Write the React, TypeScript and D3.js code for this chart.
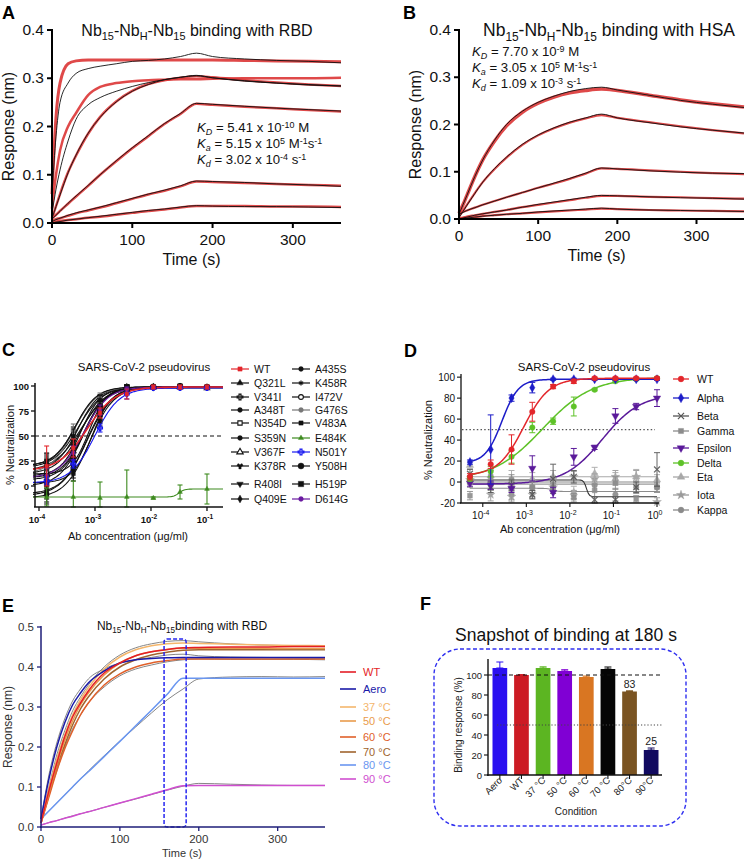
import React from 'react';
import * as d3 from 'd3';

const FONT = '"Liberation Sans", Arial, Helvetica, sans-serif';
const RED = '#dc3535';

/* ================= Panels A & B : BLI kinetics ================= */
const TIME_AB = [0, 5, 10, 20, 30, 45, 60, 80, 100, 120, 140, 160, 180, 200, 240, 280, 320, 360];

const A_FIT_1 = [0.06, 0.22, 0.29, 0.33, 0.336, 0.338, 0.338, 0.338, 0.338, 0.338, 0.338, 0.338, 0.338, 0.338, 0.337, 0.336, 0.335, 0.334];
const A_FIT_2 = [0.03, 0.1, 0.15, 0.2, 0.228, 0.265, 0.282, 0.29, 0.294, 0.296, 0.297, 0.298, 0.298, 0.299, 0.3, 0.3, 0.3, 0.301];
const A_FIT_3 = [0.01, 0.035, 0.06, 0.105, 0.14, 0.185, 0.22, 0.252, 0.274, 0.288, 0.296, 0.301, 0.304, 0.302, 0.296, 0.291, 0.287, 0.284];
const A_FIT_4 = [0.01, 0.017, 0.025, 0.04, 0.055, 0.077, 0.1, 0.128, 0.155, 0.18, 0.205, 0.226, 0.247, 0.245, 0.241, 0.238, 0.234, 0.231];
const A_FIT_5 = [0.005, 0.008, 0.01, 0.015, 0.02, 0.026, 0.032, 0.041, 0.05, 0.059, 0.067, 0.076, 0.086, 0.085, 0.083, 0.081, 0.079, 0.077];
const A_FIT_6 = [0.002, 0.003, 0.004, 0.006, 0.008, 0.011, 0.013, 0.017, 0.021, 0.025, 0.028, 0.032, 0.035, 0.035, 0.035, 0.034, 0.034, 0.033];
const A_RAW_1 = [0.06, 0.18, 0.25, 0.29, 0.31, 0.32, 0.325, 0.33, 0.335, 0.337, 0.34, 0.345, 0.352, 0.345, 0.34, 0.337, 0.335, 0.332];
const A_RAW_2 = [0.02, 0.07, 0.11, 0.17, 0.215, 0.245, 0.26, 0.273, 0.283, 0.291, 0.297, 0.302, 0.306, 0.301, 0.294, 0.29, 0.287, 0.284];
const A_RAW_3 = [0.01, 0.034, 0.058, 0.104, 0.141, 0.186, 0.219, 0.251, 0.273, 0.287, 0.297, 0.302, 0.305, 0.301, 0.295, 0.29, 0.286, 0.284];
const A_RAW_4 = [0.008, 0.016, 0.024, 0.041, 0.056, 0.078, 0.1, 0.129, 0.156, 0.181, 0.206, 0.227, 0.248, 0.246, 0.242, 0.238, 0.235, 0.232];
const A_RAW_5 = [0.003, 0.007, 0.01, 0.016, 0.021, 0.027, 0.033, 0.042, 0.051, 0.06, 0.068, 0.077, 0.087, 0.086, 0.084, 0.081, 0.079, 0.076];
const A_RAW_6 = [0, 0.002, 0.003, 0.006, 0.008, 0.011, 0.014, 0.018, 0.022, 0.026, 0.029, 0.033, 0.036, 0.035, 0.034, 0.034, 0.033, 0.032];

const B_FIT_1 = [0.012, 0.03, 0.05, 0.09, 0.125, 0.165, 0.197, 0.226, 0.245, 0.258, 0.267, 0.272, 0.275, 0.272, 0.262, 0.252, 0.244, 0.237];
const B_FIT_2 = [0.005, 0.017, 0.03, 0.055, 0.078, 0.106, 0.13, 0.157, 0.177, 0.192, 0.204, 0.213, 0.22, 0.214, 0.205, 0.196, 0.188, 0.181];
const B_FIT_3 = [0.012, 0.015, 0.018, 0.024, 0.03, 0.038, 0.046, 0.056, 0.066, 0.075, 0.085, 0.096, 0.107, 0.106, 0.103, 0.1, 0.097, 0.095];
const B_FIT_4 = [0.002, 0.003, 0.005, 0.008, 0.011, 0.015, 0.019, 0.025, 0.03, 0.035, 0.04, 0.045, 0.049, 0.049, 0.047, 0.046, 0.044, 0.043];
const B_FIT_5 = [0.001, 0.002, 0.003, 0.004, 0.006, 0.008, 0.01, 0.012, 0.014, 0.016, 0.018, 0.02, 0.022, 0.021, 0.019, 0.018, 0.017, 0.016];
const B_RAW_1 = [0.01, 0.03, 0.05, 0.09, 0.125, 0.167, 0.2, 0.228, 0.247, 0.26, 0.27, 0.276, 0.279, 0.273, 0.262, 0.251, 0.243, 0.236];
const B_RAW_2 = [0.003, 0.016, 0.029, 0.054, 0.078, 0.107, 0.131, 0.158, 0.178, 0.193, 0.205, 0.214, 0.222, 0.214, 0.204, 0.195, 0.188, 0.182];
const B_RAW_3 = [0.01, 0.014, 0.018, 0.024, 0.03, 0.038, 0.046, 0.056, 0.066, 0.076, 0.086, 0.097, 0.108, 0.106, 0.102, 0.099, 0.097, 0.096];
const B_RAW_4 = [0, 0.002, 0.004, 0.008, 0.011, 0.015, 0.019, 0.025, 0.031, 0.036, 0.041, 0.046, 0.05, 0.049, 0.047, 0.045, 0.044, 0.042];
const B_RAW_5 = [0, 0.001, 0.002, 0.004, 0.006, 0.008, 0.01, 0.012, 0.015, 0.017, 0.019, 0.021, 0.023, 0.021, 0.019, 0.018, 0.017, 0.016];

const AB_YTICKS = [0, 0.1, 0.2, 0.3, 0.4];
const AB_XTICKS = [0, 100, 200, 300];
const A_KIN_MANT = ['5.41', '5.15', '3.02'];
const A_KIN_EXP = ['-10', '5', '-4'];
const B_KIN_MANT = ['7.70', '3.05', '1.09'];
const B_KIN_EXP = ['-9', '5', '-3'];
const KIN_SUB = ['D', 'a', 'd'];
const KIN_UNIT = ['M', 'Ms', 's'];

/* ================= Panel C ================= */
const C_CONC = [1.37e-4, 4.1e-4, 1.23e-3, 3.7e-3, 1.1e-2, 3.3e-2, 1e-1];
const C_NAMES = ['WT', 'Q321L', 'V341I', 'A348T', 'N354D', 'S359N', 'V367F', 'K378R', 'R408I', 'Q409E',
  'A435S', 'K458R', 'I472V', 'G476S', 'V483A', 'E484K', 'N501Y', 'Y508H', 'H519P', 'D614G'];
const C_POINTS = [
  [20, 38, 73, 92, 99, 99, 99],
  [15, 30, 80, 98, 99, 99, 99],
  [10, 25, 75, 97, 99, 100, 99],
  [22, 45, 85, 99, 99, 99, 99],
  [25, 52, 86, 99, 99, 100, 99],
  [-5, 20, 70, 97, 99, 99, 99],
  [12, 35, 82, 99, 99, 99, 98],
  [18, 40, 78, 98, 99, 99, 99],
  [5, 15, 65, 96, 98, 99, 99],
  [-10, 12, 68, 96, 99, 99, 99],
  [20, 48, 84, 98, 99, 99, 98],
  [8, 30, 78, 98, 99, 99, 99],
  [14, 22, 72, 97, 99, 99, 99],
  [16, 55, 88, 99, 99, 99, 99],
  [24, 50, 86, 99, 100, 99, 99],
  [-11, -11, -12, -11, -12, -6, -3],
  [5, 22, 58, 92, 98, 98, 98],
  [-8, 18, 74, 98, 99, 99, 99],
  [2, 28, 80, 99, 99, 100, 99],
  [10, 33, 76, 97, 99, 99, 99],
];
// 4PL fit: bottom, top, logIC50, hill
const C_FITS = [
  [15, 99, -3.14, 1.7],
  [12, 99, -3.25, 2.0],
  [8, 99, -3.2, 2.2],
  [18, 99, -3.3, 2.0],
  [20, 99, -3.35, 2.2],
  [-8, 99, -3.15, 2.0],
  [10, 99, -3.25, 2.4],
  [15, 99, -3.25, 1.8],
  [3, 98, -3.05, 2.5],
  [-12, 99, -3.1, 2.0],
  [16, 99, -3.3, 2.3],
  [6, 99, -3.2, 2.2],
  [12, 99, -3.1, 2.8],
  [12, 99, -3.38, 2.1],
  [20, 99, -3.35, 2.3],
  [-11, -3, -1.5, 9],
  [3, 98, -3.0, 2.0],
  [-10, 99, -3.15, 1.9],
  [0, 99, -3.22, 2.1],
  [8, 99, -3.2, 2.0],
];
const C_ERR_WT = [20, 9, 5, 5, 2, 2, 2];
const C_ERR_E484K = [9, 16, 16, 27, 1, 7, 15];
const C_ERR_N501Y = [4, 4, 4, 5, 1, 1, 1];
const C_ERR_OTHER = [8, 7, 5, 2, 1, 1, 1];
const C_COLORS = ['#e3262b', '#111', '#111', '#111', '#111', '#111', '#111', '#111', '#111', '#111',
  '#111', '#111', '#111', '#777', '#111', '#3d8a1e', '#1818f0', '#111', '#111', '#6a1aa0'];
const C_MARKERS = ['square', 'tri', 'plus', 'circle', 'squareOpen', 'circle', 'triOpen', 'wye', 'triDown', 'diamond',
  'circle', 'asterisk', 'circleOpen', 'circle', 'square', 'tri', 'plus', 'circleBig', 'squareBig', 'circle'];
const C_YTICKS = [0, 25, 50, 75, 100];
const C_XTICK_EXP = [-4, -3, -2, -1];
const C_LEG_ROWS = [369, 383, 397, 410, 423, 438, 452, 466, 484, 499];

/* ================= Panel D ================= */
const D_CONC = [5.08e-5, 1.52e-4, 4.57e-4, 1.37e-3, 4.12e-3, 1.23e-2, 3.7e-2, 0.111, 0.333, 1];
const D_NAMES = ['WT', 'Alpha', 'Beta', 'Gamma', 'Epsilon', 'Delta', 'Eta', 'Iota', 'Kappa'];
const D_POINTS = [
  [5, 17, 31, 67, 91, 96, 99, 99, 99, 99],
  [19, 31, 80, 90, 98, 98, 98, 98, 98, 98],
  [8, -5, -3, -12, 3, 5, -17, -17, -5, 12],
  [-13, 5, 2, -5, -5, -15, -8, -1, -16, -5],
  [-1, -3, -6, 13, -10, 24, 33, 63, 72, 80],
  [3, 10, 24, 52, 58, 72, 88, 96, 98, 99],
  [16, 6, 3, 3, 5, -10, 8, 3, 5, 2],
  [2, -12, -14, -12, -5, 5, 3, 5, 5, -19],
  [-1, -3, -12, -5, -5, -12, -3, -12, -5, -5],
];
const D_ERRS = [
  [3, 4, 14, 9, 2, 2, 1, 1, 1, 1],
  [2, 33, 3, 5, 1, 1, 1, 1, 1, 1],
  [4, 5, 5, 4, 14, 6, 3, 3, 5, 16],
  [4, 6, 5, 5, 4, 4, 6, 6, 3, 4],
  [3, 4, 4, 12, 5, 8, 2, 7, 3, 8],
  [2, 5, 6, 5, 3, 9, 1, 1, 1, 1],
  [3, 6, 8, 6, 6, 6, 6, 6, 7, 5],
  [4, 6, 5, 4, 4, 5, 5, 6, 6, 4],
  [4, 5, 5, 5, 4, 4, 6, 6, 6, 5],
];
const D_FITS = [
  [6, 99, -3.06, 1.48],
  [18, 98, -3.56, 2.3],
  [2, -14, -1.62, 14],
  [-6, -9, -2.4, 8],
  [-2, 84, -1.25, 1.0],
  [2, 100, -2.62, 0.77],
  [5, 5, -2, 1],
  [-2, -2, -2, 1],
  [0, 0, -2, 1],
];
const D_COLORS = ['#e3262b', '#1c1cc8', '#555555', '#8c8c8c', '#5a1a9a', '#5ec228', '#a8a8a8', '#9a9a9a', '#8a8a8a'];
const D_MARKERS = ['circle', 'diamond', 'times', 'square', 'triDown', 'circle', 'tri', 'star', 'circle'];
const D_YTICKS = [-20, 0, 20, 40, 60, 80, 100];
const D_XTICK_EXP = [-4, -3, -2, -1, 0];
const D_LEG_ROWS = [379, 398, 416, 431, 448, 463, 477, 495, 510];

/* ================= Panel E ================= */
const TIME_E = [0, 10, 20, 30, 40, 50, 60, 80, 100, 120, 140, 160, 180, 200, 240, 280, 320, 360];
const E_NAMES = ['WT', 'Aero', '37 °C', '50 °C', '60 °C', '70 °C', '80 °C', '90 °C'];
const E_COLORS = ['#e41e26', '#1a1aa8', '#f4b66c', '#e99b4c', '#e0602a', '#a0642e', '#6a96f0', '#d04ed0'];
const E_FITS = [
  [0.01, 0.09, 0.16, 0.225, 0.275, 0.31, 0.34, 0.385, 0.41, 0.428, 0.438, 0.444, 0.448, 0.449, 0.45, 0.45, 0.451, 0.451],
  [0.02, 0.12, 0.2, 0.26, 0.305, 0.335, 0.36, 0.39, 0.41, 0.418, 0.421, 0.423, 0.424, 0.424, 0.424, 0.424, 0.424, 0.424],
  [0.01, 0.095, 0.17, 0.23, 0.28, 0.318, 0.348, 0.395, 0.425, 0.443, 0.453, 0.458, 0.46, 0.459, 0.457, 0.455, 0.454, 0.453],
  [0.01, 0.085, 0.155, 0.215, 0.265, 0.305, 0.335, 0.38, 0.41, 0.428, 0.438, 0.444, 0.447, 0.447, 0.447, 0.447, 0.446, 0.446],
  [0.01, 0.075, 0.14, 0.195, 0.24, 0.28, 0.31, 0.355, 0.383, 0.4, 0.41, 0.416, 0.42, 0.42, 0.42, 0.42, 0.42, 0.42],
  [0.01, 0.08, 0.15, 0.205, 0.255, 0.295, 0.325, 0.37, 0.4, 0.418, 0.43, 0.437, 0.442, 0.443, 0.443, 0.443, 0.443, 0.443],
  [0.02, 0.04, 0.06, 0.08, 0.1, 0.12, 0.138, 0.176, 0.214, 0.253, 0.292, 0.332, 0.372, 0.372, 0.372, 0.372, 0.372, 0.372],
  [0.005, 0.011, 0.016, 0.022, 0.027, 0.033, 0.038, 0.049, 0.06, 0.071, 0.082, 0.093, 0.103, 0.104, 0.104, 0.104, 0.104, 0.104],
];
const E_RAW = [
  [0.01, 0.1, 0.18, 0.24, 0.29, 0.325, 0.355, 0.4, 0.43, 0.448, 0.458, 0.464, 0.466, 0.463, 0.458, 0.455, 0.453, 0.451],
  [0.02, 0.13, 0.21, 0.27, 0.315, 0.345, 0.37, 0.395, 0.41, 0.418, 0.424, 0.43, 0.432, 0.428, 0.425, 0.424, 0.423, 0.422],
  [0.01, 0.08, 0.14, 0.2, 0.245, 0.28, 0.31, 0.35, 0.378, 0.395, 0.405, 0.413, 0.418, 0.42, 0.419, 0.419, 0.419, 0.418],
  [0.02, 0.04, 0.06, 0.08, 0.1, 0.12, 0.14, 0.178, 0.215, 0.25, 0.285, 0.318, 0.345, 0.37, 0.375, 0.376, 0.375, 0.376],
  [0.005, 0.011, 0.016, 0.022, 0.028, 0.033, 0.038, 0.049, 0.06, 0.07, 0.081, 0.092, 0.102, 0.109, 0.107, 0.105, 0.104, 0.104],
];
const E_YTICKS = [0, 0.1, 0.2, 0.3, 0.4, 0.5];
const E_XTICKS = [0, 100, 200, 300];
const E_WINDOW = [156, 184, 0, 0.47];
const E_LEG_ROWS = [672, 689, 707, 721, 737, 752, 765, 779];

/* ================= Panel F ================= */
const F_COND = ['Aero', 'WT', '37 °C', '50 °C', '60 °C', '70 °C', '80°C', '90°C'];
const F_VAL = [107, 100, 107, 104, 98, 106, 83.5, 25];
const F_ERR = [6, 0.4, 1.2, 1.3, 1, 2, 0.7, 2];
const F_COLORS = ['#2a10f0', '#cc1b24', '#5cb522', '#8000d4', '#d97622', '#050505', '#7a5422', '#120a60'];
const F_LABELS = ['', '', '', '', '', '', '83', '25'];
const F_YTICKS = [0, 20, 40, 60, 80, 100];

/* ================= helpers ================= */
function symPath(kind: string, size: number): string {
  const m: any = {
    square: d3.symbolSquare, squareOpen: d3.symbolSquare, squareBig: d3.symbolSquare,
    tri: d3.symbolTriangle, triOpen: d3.symbolTriangle, triDown: d3.symbolTriangle,
    plus: d3.symbolCross, circle: d3.symbolCircle, circleOpen: d3.symbolCircle, circleBig: d3.symbolCircle,
    wye: d3.symbolWye, diamond: d3.symbolDiamond, asterisk: d3.symbolAsterisk, times: d3.symbolTimes, star: d3.symbolStar,
  };
  let s = size;
  if (kind === 'squareBig' || kind === 'circleBig') s = size * 1.6;
  return d3.symbol().type(m[kind] || d3.symbolCircle).size(s)() as string;
}

function Marker({ kind, x, y, color, size }: any) {
  const open = kind === 'squareOpen' || kind === 'triOpen' || kind === 'circleOpen';
  const lineOnly = kind === 'asterisk' || kind === 'times' || kind === 'plus';
  return (
    <path
      d={symPath(kind, size)}
      transform={`translate(${x},${y})${kind === 'triDown' ? ' rotate(180)' : ''}`}
      fill={open ? '#fff' : lineOnly ? 'none' : color}
      stroke={color}
      strokeWidth={lineOnly ? 1.2 : open ? 1.1 : 0.4}
    />
  );
}

function ErrBar({ x, y1, y2, color, w = 3, sw = 1 }: any) {
  return (
    <g stroke={color} strokeWidth={sw}>
      <line x1={x} x2={x} y1={y1} y2={y2} />
      <line x1={x - w} x2={x + w} y1={y1} y2={y1} />
      <line x1={x - w} x2={x + w} y1={y2} y2={y2} />
    </g>
  );
}

function fourPL(p: number[], lx: number) {
  return p[0] + (p[1] - p[0]) / (1 + Math.pow(10, (p[2] - lx) * p[3]));
}

function NbTitle({ x, y, fs, target }: any) {
  const s = fs * 0.68;
  const d = fs * 0.28;
  return (
    <text x={x} y={y} textAnchor="middle" fontSize={fs} fontFamily={FONT} fill="#111">
      Nb<tspan fontSize={s} dy={d}>15</tspan>
      <tspan dy={-d}>-Nb</tspan><tspan fontSize={s} dy={d}>H</tspan>
      <tspan dy={-d}>-Nb</tspan><tspan fontSize={s} dy={d}>15</tspan>
      <tspan dy={-d}>{target}</tspan>
    </text>
  );
}

function KinLine({ x, y, fs, sub, mant, exp, unit }: any) {
  const s = fs * 0.68;
  const dn = fs * 0.22;
  const up = fs * 0.34;
  return (
    <text x={x} y={y} fontSize={fs} fontFamily={FONT} fill="#111">
      <tspan fontStyle="italic">K</tspan>
      <tspan fontStyle="italic" fontSize={s} dy={dn}>{sub}</tspan>
      <tspan dy={-dn}>{` = ${mant} x 10`}</tspan>
      <tspan fontSize={s} dy={-up}>{exp}</tspan>
      {unit === 'M' && <tspan dy={up}>{' M'}</tspan>}
      {unit === 'Ms' && (
        <>
          <tspan dy={up}>{' M'}</tspan>
          <tspan fontSize={s} dy={-up}>-1</tspan>
          <tspan dy={up}>s</tspan>
          <tspan fontSize={s} dy={-up}>-1</tspan>
        </>
      )}
      {unit === 's' && (
        <>
          <tspan dy={up}>{' s'}</tspan>
          <tspan fontSize={s} dy={-up}>-1</tspan>
        </>
      )}
    </text>
  );
}

function PowLabel({ x, y, e, fs, bold }: any) {
  return (
    <text x={x} y={y} textAnchor="middle" fontSize={fs} fontFamily={FONT} fontWeight={bold ? 'bold' : 'normal'} fill="#111">
      10<tspan fontSize={fs * 0.7} dy={-fs * 0.4}>{String(e)}</tspan>
    </text>
  );
}

/* ================= Panel A/B component ================= */
function KineticsPanel({ xr, yr, fits, raws, fitW, title, titleX, titleY, titleFs, kinX, kinY, mant, exps, ylabX }: any) {
  const x = d3.scaleLinear().domain([0, 360]).range(xr);
  const y = d3.scaleLinear().domain([0, 0.4]).range(yr);
  const line = d3.line<number>().x((_, i) => x(TIME_AB[i])).y((d) => y(d)).curve(d3.curveMonotoneX);
  return (
    <g fontFamily={FONT}>
      {fits.map((f: number[], i: number) => (
        <path key={'f' + i} d={line(f) as string} fill="none" stroke={RED} strokeWidth={fitW[i]} strokeOpacity={0.9} />
      ))}
      {raws.map((f: number[], i: number) => (
        <path key={'r' + i} d={line(f) as string} fill="none" stroke="#111" strokeWidth={0.9} />
      ))}
      <line x1={xr[0]} x2={xr[1]} y1={yr[0]} y2={yr[0]} stroke="#000" strokeWidth={2} />
      <line x1={xr[0]} x2={xr[0]} y1={yr[0] + 1} y2={y(0.4) - 1} stroke="#000" strokeWidth={2} />
      {AB_YTICKS.map((t) => (
        <g key={'y' + t}>
          <line x1={xr[0] - 5} x2={xr[0]} y1={y(t)} y2={y(t)} stroke="#000" strokeWidth={2} />
          <text x={xr[0] - 8} y={y(t) + 5} textAnchor="end" fontSize={15.5} fill="#111">{t.toFixed(1)}</text>
        </g>
      ))}
      {AB_XTICKS.map((t) => (
        <g key={'x' + t}>
          <line x1={x(t)} x2={x(t)} y1={yr[0]} y2={yr[0] + 5} stroke="#000" strokeWidth={2} />
          <text x={x(t)} y={yr[0] + 22} textAnchor="middle" fontSize={15.5} fill="#111">{t}</text>
        </g>
      ))}
      <text x={(xr[0] + xr[1]) / 2 - 5} y={yr[0] + 42} textAnchor="middle" fontSize={16} fill="#111">Time (s)</text>
      <text transform={`translate(${ylabX},${(yr[0] + y(0.4)) / 2}) rotate(-90)`} textAnchor="middle" fontSize={16} fill="#111">Response (nm)</text>
      <NbTitle x={titleX} y={titleY} fs={titleFs} target={title} />
      {KIN_SUB.map((s, i) => (
        <KinLine key={s} x={kinX} y={kinY + i * 16} fs={13.2} sub={s} mant={mant[i]} exp={exps[i]} unit={KIN_UNIT[i]} />
      ))}
    </g>
  );
}

/* ================= Panel C ================= */
function PanelC() {
  const x = d3.scaleLog().domain([Math.pow(10, -4.107), Math.pow(10, -0.714)]).range([33, 223]);
  const y = d3.scaleLinear().domain([-21, 103]).range([507, 383]);
  const grid = d3.range(0, 121).map((i) => -4.107 + (i / 120) * (3.393));
  const order = d3.range(1, C_NAMES.length).filter((i) => i !== 15 && i !== 16).concat([16, 15, 0]);
  const errs = (i: number) => (i === 0 ? C_ERR_WT : i === 15 ? C_ERR_E484K : i === 16 ? C_ERR_N501Y : C_ERR_OTHER);
  return (
    <g fontFamily={FONT}>
      <text x={144} y={371} textAnchor="middle" fontSize={11.5} fill="#111">SARS-CoV-2 pseudovirus</text>
      <line x1={35} x2={222} y1={y(50)} y2={y(50)} stroke="#111" strokeWidth={1.2} strokeDasharray="4,3" />
      {order.map((i) => {
        const p = C_FITS[i];
        const d = d3.line<number>().x((lx) => x(Math.pow(10, lx))).y((lx) => y(fourPL(p, lx)))(grid) as string;
        return <path key={'l' + i} d={d} fill="none" stroke={C_COLORS[i]} strokeWidth={i === 0 ? 1.6 : 1.1} />;
      })}
      {order.map((i) => (
        <g key={'p' + i}>
          {C_CONC.map((c, j) => (
            <ErrBar key={j} x={x(c)} y1={y(C_POINTS[i][j] + errs(i)[j])} y2={y(Math.max(-21, C_POINTS[i][j] - errs(i)[j]))} color={C_COLORS[i]} w={2.5} sw={1.1} />
          ))}
          {C_CONC.map((c, j) => (
            <Marker key={'m' + j} kind={C_MARKERS[i]} x={x(c)} y={y(C_POINTS[i][j])} color={C_COLORS[i]} size={i === 15 ? 10 : 13} />
          ))}
        </g>
      ))}
      <line x1={35} x2={35} y1={507} y2={383} stroke="#111" strokeWidth={1.5} />
      <line x1={34} x2={223} y1={507} y2={507} stroke="#111" strokeWidth={1.5} />
      {C_YTICKS.map((t) => (
        <g key={t}>
          <line x1={31} x2={35} y1={y(t)} y2={y(t)} stroke="#111" strokeWidth={1.3} />
          <text x={29} y={y(t) + 3.5} textAnchor="end" fontSize={9.5} fontWeight="bold" fill="#111">{t}</text>
        </g>
      ))}
      {C_XTICK_EXP.map((e) => (
        <g key={e}>
          <line x1={x(Math.pow(10, e))} x2={x(Math.pow(10, e))} y1={507} y2={511} stroke="#111" strokeWidth={1.3} />
          <PowLabel x={x(Math.pow(10, e)) - 2} y={523} e={e} fs={9.5} bold />
        </g>
      ))}
      <text transform={`translate(14,${y(41)}) rotate(-90)`} textAnchor="middle" fontSize={11} fill="#111">% Neutralization</text>
      <text x={128} y={540} textAnchor="middle" fontSize={11} fill="#111">Ab concentration (μg/ml)</text>
      {C_NAMES.map((n, i) => {
        const col = i < 10 ? 0 : 1;
        const ly = C_LEG_ROWS[i % 10];
        const lx = col === 0 ? 240 : 301;
        return (
          <g key={n}>
            <line x1={lx - 9} x2={lx + 9} y1={ly} y2={ly} stroke={C_COLORS[i]} strokeWidth={1.2} />
            <Marker kind={C_MARKERS[i]} x={lx} y={ly} color={C_COLORS[i]} size={i === 15 ? 12 : 18} />
            <text x={lx + 14} y={ly + 4} fontSize={10.5} fill="#111">{n}</text>
          </g>
        );
      })}
    </g>
  );
}

/* ================= Panel D ================= */
function PanelD() {
  const x = d3.scaleLog().domain([Math.pow(10, -4.5), 1]).range([461, 657]);
  const y = d3.scaleLinear().domain([-20, 103]).range([503, 374]);
  const grid = d3.range(0, 121).map((i) => -4.3 + (i / 120) * 4.3);
  const order = [8, 7, 6, 3, 2, 4, 5, 1, 0];
  return (
    <g fontFamily={FONT}>
      <text x={584} y={371} textAnchor="middle" fontSize={11.5} fill="#111">SARS-CoV-2 pseudovirus</text>
      <line x1={462} x2={655} y1={y(50)} y2={y(50)} stroke="#555" strokeWidth={1.2} strokeDasharray="1.5,2.2" />
      {order.map((i) => {
        const p = D_FITS[i];
        const d = d3.line<number>().x((lx) => x(Math.pow(10, lx))).y((lx) => y(fourPL(p, lx)))(grid) as string;
        return <path key={'l' + i} d={d} fill="none" stroke={i === 2 ? '#333' : D_COLORS[i]} strokeWidth={i <= 1 || i === 4 || i === 5 ? 1.5 : 1.1} />;
      })}
      {order.map((i) => (
        <g key={'p' + i} opacity={i === 0 || i === 1 || i === 4 || i === 5 ? 1 : 0.9}>
          {D_CONC.map((c, j) => (
            <ErrBar key={j} x={x(c)} y1={y(D_POINTS[i][j] + D_ERRS[i][j])} y2={y(Math.max(-20, D_POINTS[i][j] - D_ERRS[i][j]))} color={D_COLORS[i]} w={3} sw={1} />
          ))}
          {D_CONC.map((c, j) => (
            <Marker key={'m' + j} kind={D_MARKERS[i]} x={x(c)} y={y(D_POINTS[i][j])} color={D_COLORS[i]} size={24} />
          ))}
        </g>
      ))}
      <line x1={461} x2={461} y1={503} y2={374} stroke="#111" strokeWidth={1.3} />
      <line x1={460} x2={659} y1={503} y2={503} stroke="#111" strokeWidth={1.3} />
      {D_YTICKS.map((t) => (
        <g key={t}>
          <line x1={457} x2={461} y1={y(t)} y2={y(t)} stroke="#111" strokeWidth={1.1} />
          <text x={455} y={y(t) + 3.5} textAnchor="end" fontSize={10} fill="#111">{t}</text>
        </g>
      ))}
      {D_XTICK_EXP.map((e) => (
        <g key={e}>
          <line x1={x(Math.pow(10, e))} x2={x(Math.pow(10, e))} y1={503} y2={507} stroke="#111" strokeWidth={1.1} />
          <PowLabel x={x(Math.pow(10, e)) - 2} y={519} e={e} fs={10} />
        </g>
      ))}
      <text transform={`translate(432,${y(40)}) rotate(-90)`} textAnchor="middle" fontSize={11} fill="#111">% Neutralization</text>
      <text x={560} y={533} textAnchor="middle" fontSize={11} fill="#111">Ab concentration (μg/ml)</text>
      {D_NAMES.map((n, i) => {
        const ly = D_LEG_ROWS[i];
        return (
          <g key={n}>
            <line x1={673} x2={689} y1={ly} y2={ly} stroke={D_COLORS[i]} strokeWidth={1.3} />
            <Marker kind={D_MARKERS[i]} x={681} y={ly} color={D_COLORS[i]} size={26} />
            <text x={697} y={ly + 4} fontSize={10.5} fill="#111">{n}</text>
          </g>
        );
      })}
    </g>
  );
}

/* ================= Panel E ================= */
function PanelE() {
  const x = d3.scaleLinear().domain([0, 360]).range([41, 325]);
  const y = d3.scaleLinear().domain([0, 0.5]).range([827, 627]);
  const line = d3.line<number>().x((_, i) => x(TIME_E[i])).y((d) => y(d)).curve(d3.curveMonotoneX);
  const AX = '#1e1e78';
  const drawOrder = [6, 7, 5, 4, 3, 2, 1, 0];
  return (
    <g fontFamily={FONT}>
      {E_RAW.map((r, i) => (
        <path key={'r' + i} d={line(r) as string} fill="none" stroke="#777" strokeWidth={0.9} />
      ))}
      {drawOrder.map((i) => (
        <path key={'f' + i} d={line(E_FITS[i]) as string} fill="none" stroke={E_COLORS[i]} strokeWidth={1.5} />
      ))}
      <rect x={x(E_WINDOW[0])} y={y(E_WINDOW[3])} width={x(E_WINDOW[1]) - x(E_WINDOW[0])} height={y(E_WINDOW[2]) - y(E_WINDOW[3])}
        rx={3} fill="none" stroke="#2626f0" strokeWidth={1.5} strokeDasharray="4,2" />
      <line x1={41} x2={41} y1={828} y2={626} stroke={AX} strokeWidth={1.5} />
      <line x1={40} x2={325} y1={827} y2={827} stroke={AX} strokeWidth={1.5} />
      {E_YTICKS.map((t) => (
        <g key={t}>
          <line x1={37} x2={41} y1={y(t)} y2={y(t)} stroke={AX} strokeWidth={1.3} />
          <text x={34} y={y(t) + 4} textAnchor="end" fontSize={11.5} fill="#333">{t.toFixed(1)}</text>
        </g>
      ))}
      {E_XTICKS.map((t) => (
        <g key={t}>
          <line x1={x(t)} x2={x(t)} y1={827} y2={831} stroke={AX} strokeWidth={1.3} />
          <text x={x(t)} y={843} textAnchor="middle" fontSize={11.5} fill="#333">{t}</text>
        </g>
      ))}
      <text x={182} y={857} textAnchor="middle" fontSize={11} fill="#333">Time (s)</text>
      <text transform={`translate(12,${y(0.25)}) rotate(-90)`} textAnchor="middle" fontSize={12} fill="#333">Response (nm)</text>
      <NbTitle x={182} y={630} fs={12} target="binding with RBD" />
      {E_NAMES.map((n, i) => (
        <g key={n}>
          <line x1={340} x2={356} y1={E_LEG_ROWS[i]} y2={E_LEG_ROWS[i]} stroke={E_COLORS[i]} strokeWidth={1.6} />
          <text x={363} y={E_LEG_ROWS[i] + 4} fontSize={11} fill={E_COLORS[i]}>{n}</text>
        </g>
      ))}
    </g>
  );
}

/* ================= Panel F ================= */
function PanelF() {
  const x = d3.scaleBand().domain(F_COND).range([492.5, 658.5]).paddingInner(0.32).paddingOuter(0.0);
  const y = d3.scaleLinear().domain([0, 116]).range([775, 659]);
  const bw = x.bandwidth();
  return (
    <g fontFamily={FONT}>
      <text x={566} y={641} textAnchor="middle" fontSize={17.5} fill="#111">Snapshot of binding at 180 s</text>
      <rect x={434} y={649} width={252} height={177} rx={26} fill="none" stroke="#3030f0" strokeWidth={1.4} strokeDasharray="4,2.5" />
      {F_COND.map((c, i) => (
        <g key={c}>
          <rect x={x(c)} y={y(F_VAL[i])} width={bw} height={y(0) - y(F_VAL[i])} fill={F_COLORS[i]} />
          <ErrBar x={(x(c) as number) + bw / 2} y1={y(F_VAL[i] + F_ERR[i])} y2={y(F_VAL[i])} color={F_COLORS[i]} w={3.5} sw={1} />
          {F_LABELS[i] && (
            <text x={(x(c) as number) + bw / 2} y={y(F_VAL[i] + F_ERR[i]) - 3} textAnchor="middle" fontSize={10.5} fill="#222">{F_LABELS[i]}</text>
          )}
          <text transform={`translate(${(x(c) as number) + bw / 2 + 3},${781}) rotate(-45)`} textAnchor="end" fontSize={9.5} fill="#222">{c}</text>
        </g>
      ))}
      <line x1={488} x2={662} y1={y(100)} y2={y(100)} stroke="#111" strokeWidth={1.2} strokeDasharray="4,3" />
      <line x1={497} x2={662} y1={y(50)} y2={y(50)} stroke="#444" strokeWidth={1.1} strokeDasharray="1.2,2" />
      <line x1={488} x2={488} y1={776} y2={659} stroke="#111" strokeWidth={1.4} />
      <line x1={487} x2={662} y1={775} y2={775} stroke="#111" strokeWidth={1.4} />
      {F_YTICKS.map((t) => (
        <g key={t}>
          <line x1={484} x2={488} y1={y(t)} y2={y(t)} stroke="#111" strokeWidth={1.1} />
          <text x={482} y={y(t) + 3.5} textAnchor="end" fontSize={9.5} fill="#222">{t}</text>
        </g>
      ))}
      {F_COND.map((c) => (
        <line key={'t' + c} x1={(x(c) as number) + bw / 2} x2={(x(c) as number) + bw / 2} y1={775} y2={779} stroke="#111" strokeWidth={1.1} />
      ))}
      <text transform={`translate(462,${y(50)}) rotate(-90)`} textAnchor="middle" fontSize={10} fill="#222">Binding response (%)</text>
      <text x={576} y={815} textAnchor="middle" fontSize={10} fill="#222">Condition</text>
    </g>
  );
}

/* ================= App ================= */
export default function App() {
  const lbl = (x: number, y: number, t: string) => (
    <text x={x} y={y} fontFamily={FONT} fontWeight="bold" fontSize={18} fill="#000">{t}</text>
  );
  return (
    <svg width={747} height={860} viewBox="0 0 747 860" style={{ position: 'absolute', left: 0, top: 0, background: '#fff' }}>
      <rect x={0} y={0} width={747} height={860} fill="#fff" />
      {lbl(2, 19, 'A')}
      {lbl(403, 19, 'B')}
      {lbl(2, 356, 'C')}
      {lbl(404, 357, 'D')}
      {lbl(2, 612, 'E')}
      {lbl(420, 610, 'F')}
      <KineticsPanel
        xr={[52, 341]} yr={[223, 30]}
        fits={[A_FIT_1, A_FIT_2, A_FIT_3, A_FIT_4, A_FIT_5, A_FIT_6]}
        raws={[A_RAW_1, A_RAW_2, A_RAW_3, A_RAW_4, A_RAW_5, A_RAW_6]}
        fitW={[3, 2.5, 2.5, 2.5, 2.5, 2.5]}
        title=" binding with RBD" titleX={197} titleY={36} titleFs={16}
        kinX={197} kinY={132} mant={A_KIN_MANT} exps={A_KIN_EXP} ylabX={14}
      />
      <KineticsPanel
        xr={[459, 744]} yr={[219, 30]}
        fits={[B_FIT_1, B_FIT_2, B_FIT_3, B_FIT_4, B_FIT_5]}
        raws={[B_RAW_1, B_RAW_2, B_RAW_3, B_RAW_4, B_RAW_5]}
        fitW={[3.5, 2.2, 2.2, 2.2, 2.2]}
        title=" binding with HSA" titleX={609} titleY={36} titleFs={17.5}
        kinX={472} kinY={56} mant={B_KIN_MANT} exps={B_KIN_EXP} ylabX={421}
      />
      <PanelC />
      <PanelD />
      <PanelE />
      <PanelF />
    </svg>
  );
}
